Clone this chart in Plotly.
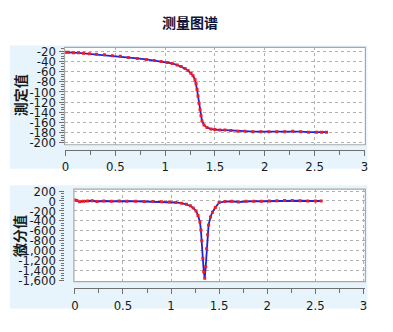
import plotly.graph_objects as go

# ---- data ----
top_x = [0, 0.03, 0.08, 0.13, 0.18, 0.24, 0.31, 0.39, 0.47, 0.55, 0.63, 0.72, 0.81, 0.89, 0.96,
         1.02, 1.07, 1.12, 1.16, 1.2, 1.23, 1.26, 1.28, 1.3, 1.31, 1.32, 1.33, 1.34, 1.35, 1.36,
         1.37, 1.39, 1.42, 1.46, 1.5, 1.55, 1.6, 1.66, 1.73, 1.8, 1.88, 1.96, 2.04, 2.12, 2.2,
         2.28, 2.36, 2.44, 2.52, 2.57, 2.62]
top_y = [-22, -22, -23, -23, -24, -25, -26, -27, -29, -30, -32, -34, -36, -38, -40,
         -42, -44, -47, -50, -54, -58, -63, -68, -76, -84, -95, -108, -122, -135, -147,
         -157, -165, -170, -173, -174, -175, -175, -176, -177, -177, -178, -178, -178, -178, -178,
         -177, -178, -179, -179, -179, -179]

bot_x = [0, 0.02, 0.05, 0.09, 0.13, 0.18, 0.23, 0.3, 0.38, 0.46, 0.54, 0.63, 0.72, 0.81, 0.9,
         0.98, 1.05, 1.11, 1.16, 1.2, 1.23, 1.26, 1.28, 1.3, 1.31, 1.32, 1.33, 1.34, 1.35, 1.36,
         1.37, 1.38, 1.39, 1.41, 1.43, 1.46, 1.5, 1.56, 1.63, 1.7, 1.78, 1.86, 1.94, 2.02, 2.1,
         2.18, 2.26, 2.34, 2.42, 2.5, 2.56]
bot_y = [20, 10, -15, -5, 0, 5, -10, 0, -5, 0, -5, -5, -8, -10, -15,
         -20, -30, -45, -65, -95, -140, -200, -290, -420, -580, -800, -1150, -1420, -1550, -1320,
         -960, -680, -480, -320, -225, -130, -30, -12, -5, -20, -5, -3, -5, -2, 5,
         10, 12, 5, 0, 0, 0]

top_tickvals = [-20, -40, -60, -80, -100, -120, -140, -160, -180, -200]
top_ticktext = ["-20", "-40", "-60", "-80", "-100", "-120", "-140", "-160", "-180", "-200"]
bot_tickvals = [200, 0, -200, -400, -600, -800, -1000, -1200, -1400, -1600]
bot_ticktext = ["200", "0", "-200", "-400", "-600", "-800", "-1,000", "-1,200", "-1,400", "-1,600"]
x_tickvals = [0, 0.5, 1, 1.5, 2, 2.5, 3]
x_ticktext = ["0", "0.5", "1", "1.5", "2", "2.5", "3"]

title_text = "测量图谱"
top_ytitle = "測定值"
bot_ytitle = "微分值"

W, H = 393, 332
def px(x): return x / W
def py(y): return 1 - y / H

BLUE = "#2020e0"
RED = "#ee1c24"
GRID = "#b0b0b0"
FRAME = "#a8a8a8"
TXT = "#1a1a1a"
FONT = "Liberation Sans Narrow, DejaVu Sans Condensed, Arial Narrow, sans-serif"

fig = go.Figure()
for xs, ys, xa, ya in [(top_x, top_y, "x", "y"), (bot_x, bot_y, "x2", "y2")]:
    fig.add_trace(go.Scatter(x=xs, y=ys, xaxis=xa, yaxis=ya, mode="lines",
                             line=dict(color=BLUE, width=1.8), hoverinfo="skip"))
    fig.add_trace(go.Scatter(x=xs, y=ys, xaxis=xa, yaxis=ya, mode="markers",
                             marker=dict(color=RED, size=3, symbol="square"), hoverinfo="skip"))

shapes = []
# light blue panels
for (x0, y0, x1, y1) in [(7, 42, 370, 170), (7, 187, 370, 315)]:
    shapes.append(dict(type="rect", xref="paper", yref="paper", x0=px(x0), x1=px(x1),
                       y0=py(y1), y1=py(y0), fillcolor="#e7f4fc", line=dict(width=0), layer="below"))
# white plot areas with frame
for (x0, y0, x1, y1) in [(62.5, 44, 368, 145), (72, 191, 368, 287)]:
    shapes.append(dict(type="rect", xref="paper", yref="paper", x0=px(x0), x1=px(x1),
                       y0=py(y1), y1=py(y0), fillcolor="white", line=dict(width=0), layer="below"))
for xr, yr in [("x domain", "y domain"), ("x2 domain", "y2 domain")]:
    shapes.append(dict(type="rect", xref=xr, yref=yr, x0=0, x1=1, y0=0, y1=1,
                       line=dict(color=FRAME, width=1.2), layer="above"))

tickfont = dict(family=FONT, size=13, color=TXT)
xcommon = dict(tickvals=x_tickvals, ticktext=x_ticktext, showgrid=True, gridcolor=GRID,
               griddash="dot", gridwidth=1, zeroline=False, showline=True, linecolor="#707070",
               linewidth=1, ticks="outside", ticklen=5, tickcolor="#707070", tickfont=tickfont,
               anchor="free", minor=dict(dtick=0.25, tick0=0, ticks="outside", ticklen=4,
                                         tickcolor="#707070", showgrid=False))
ycommon = dict(showgrid=True, gridcolor=GRID, griddash="dot", gridwidth=1, zeroline=False,
               showline=False, ticks="outside", ticklen=5, tickcolor="#707070", tickfont=tickfont)

fig.update_layout(
    width=W, height=H, margin=dict(l=0, r=0, t=0, b=0),
    paper_bgcolor="white", plot_bgcolor="white", showlegend=False,
    shapes=shapes,
    xaxis=dict(domain=[px(62.5), px(368)], range=[-0.01, 3.01], position=py(150), **xcommon),
    yaxis=dict(domain=[py(145), py(44)], range=[-203.8, -12.4], tickvals=top_tickvals,
               ticktext=top_ticktext,
               minor=dict(dtick=5, tick0=0, ticks="outside", ticklen=3, tickcolor="#707070",
                          showgrid=False), **ycommon),
    xaxis2=dict(domain=[px(72), px(368)], range=[-0.0102, 3.02], position=py(294), **xcommon),
    yaxis2=dict(domain=[py(287), py(191)], range=[-1619, 238.7], tickvals=bot_tickvals,
                ticktext=bot_ticktext,
                minor=dict(dtick=50, tick0=0, ticks="outside", ticklen=3, tickcolor="#707070",
                           showgrid=False), **ycommon),
    annotations=[
        dict(text="<b>" + title_text + "</b>", x=px(190), y=py(18), xref="paper", yref="paper",
             xanchor="center", yanchor="middle", showarrow=False,
             font=dict(family="Noto Sans CJK SC", size=14, color="#111133")),
        dict(text="<b>" + top_ytitle + "</b>", x=px(17), y=py(94), xref="paper", yref="paper",
             xanchor="center", yanchor="middle", textangle=-90, showarrow=False,
             font=dict(family="Noto Sans CJK SC", size=14, color=TXT)),
        dict(text="<b>" + bot_ytitle + "</b>", x=px(17), y=py(240), xref="paper", yref="paper",
             xanchor="center", yanchor="middle", textangle=-90, showarrow=False,
             font=dict(family="Noto Sans CJK SC", size=14, color=TXT)),
    ],
)

fig.write_html("out.html")
